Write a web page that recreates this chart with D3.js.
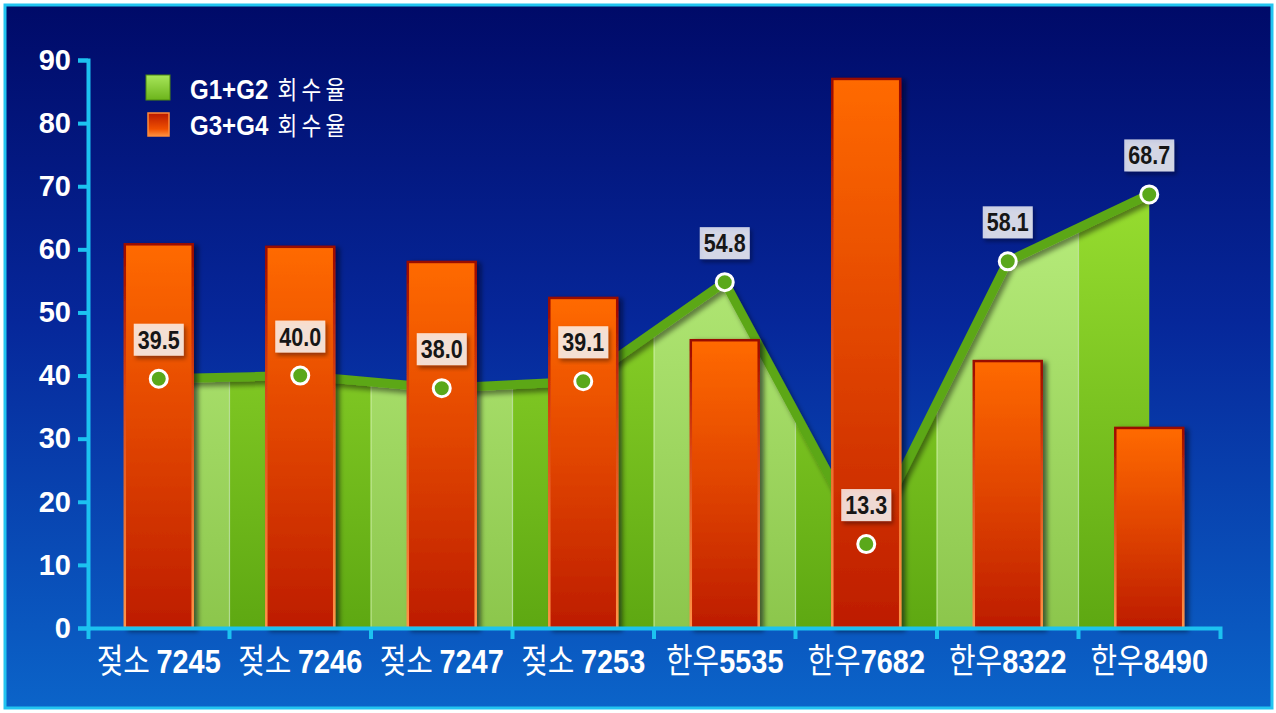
<!DOCTYPE html>
<html>
<head>
<meta charset="utf-8">
<script src="https://cdn.jsdelivr.net/npm/d3@7"></script>
<style>
  html, body { margin: 0; padding: 0; background: #ffffff; }
  svg { display: block; }
</style>
</head>
<body>
<svg id="chart" width="1276" height="713"></svg>
<script>
// ---- data ----
const categories = ["젖소 7245", "젖소 7246", "젖소 7247", "젖소 7253", "한우5535", "한우7682", "한우8322", "한우8490"];
const g12Rate = [39.5, 40.0, 38.0, 39.1, 54.8, 13.3, 58.1, 68.7];   // G1+G2 회수율 (line/area)
const g34Rate = [60.8, 60.4, 58.0, 52.3, 45.6, 87.0, 42.3, 31.7];   // G3+G4 회수율 (bars)
const yTicks = [0, 10, 20, 30, 40, 50, 60, 70, 80, 90];
const seriesNames = ["G1+G2 회수율", "G3+G4 회수율"];

// ---- setup ----
const svg = d3.select("#chart");
const defs = svg.append("defs");
const LATIN = "'Liberation Sans', Arial, sans-serif";
const HANGUL = "'Noto Sans CJK KR', 'Liberation Sans', sans-serif";
const AXIS_COLOR = "#1cc2f0";

function linGrad(id, stops, opts = {}) {
  const g = defs.append("linearGradient").attr("id", id)
    .attr("x1", 0).attr("y1", opts.y1 ?? 0).attr("x2", 0).attr("y2", opts.y2 ?? 1);
  if (opts.units) g.attr("gradientUnits", opts.units);
  stops.forEach(([o, c]) => g.append("stop").attr("offset", o).attr("stop-color", c));
}

const x = d3.scaleBand().domain(categories).range([88, 1220]);
const y = d3.scaleLinear().domain([0, 90]).range([628, 60]);
const cx = c => x(c) + x.bandwidth() / 2;

linGrad("bg", [[0, "#000a68"], [0.45, "#06279a"], [1, "#0b64c9"]]);
linGrad("barFill", [[0, "#ff6a00"], [0.5, "#e04400"], [1, "#bd1c00"]]);
linGrad("barStroke", [[0, "#9a0800"], [0.35, "#d84010"], [1, "#ff9448"]]);
linGrad("stripeLight", [[0, "#b9ee7e"], [1, "#8cc64c"]], { units: "userSpaceOnUse", y1: y(70), y2: y(0) });
linGrad("stripeDark", [[0, "#98de30"], [1, "#5ea812"]], { units: "userSpaceOnUse", y1: y(70), y2: y(0) });
linGrad("legGreen", [[0, "#a8e65a"], [1, "#6cb41c"]]);
linGrad("legRed", [[0, "#b81800"], [0.7, "#f05000"], [1, "#ff9040"]]);

function shadow(id, dx, dy, sd, op) {
  const f = defs.append("filter").attr("id", id)
    .attr("x", "-20%").attr("y", "-20%").attr("width", "140%").attr("height", "140%");
  f.append("feDropShadow").attr("dx", dx).attr("dy", dy).attr("stdDeviation", sd)
    .attr("flood-color", "#000010").attr("flood-opacity", op);
}
shadow("barShadow", 4, 2, 2.5, 0.55);
shadow("lineShadow", 3, 4, 2.5, 0.45);
shadow("boxShadow", 2, 3, 2, 0.5);

// Text with Latin runs in bold and Hangul runs in regular weight
function mixedText(sel, str, latinSize, hangulSize, hangulSpacing) {
  sel.text(null);
  const parts = str.match(/[\u3131-\uD79D\s]+|[^\u3131-\uD79D\s]+/g);
  parts.forEach(p => {
    const hangul = /[\u3131-\uD79D]/.test(p);
    const t = sel.append("tspan").text(p)
      .attr("font-family", hangul ? HANGUL : LATIN)
      .attr("font-weight", hangul ? 400 : 700)
      .attr("font-size", hangul ? hangulSize : latinSize);
    if (hangul && hangulSpacing) t.attr("letter-spacing", hangulSpacing);
  });
}

// ---- background frame ----
svg.append("rect").attr("x", 5).attr("y", 5).attr("width", 1267).attr("height", 703)
  .attr("fill", "url(#bg)").attr("stroke", "#22c4f0").attr("stroke-width", 3);

// ---- G1+G2 area (striped) ----
const area = d3.area()
  .x((d, i) => cx(categories[i]))
  .y0(y(0))
  .y1(d => y(d));
const line = d3.line()
  .x((d, i) => cx(categories[i]))
  .y(d => y(d));

defs.append("clipPath").attr("id", "areaClip")
  .append("path").attr("d", area(g12Rate));

const areaG = svg.append("g").attr("clip-path", "url(#areaClip)");
areaG.selectAll("rect.stripe").data(categories).join("rect")
  .attr("class", "stripe")
  .attr("x", c => x(c)).attr("width", x.bandwidth())
  .attr("y", y(90)).attr("height", y(0) - y(90))
  .attr("fill", (c, i) => i % 2 === 0 ? "url(#stripeLight)" : "url(#stripeDark)");
areaG.selectAll("line.sep").data(categories.slice(1)).join("line")
  .attr("class", "sep")
  .attr("x1", c => x(c)).attr("x2", c => x(c))
  .attr("y1", y(90)).attr("y2", y(0))
  .attr("stroke", "#d9f7b4").attr("stroke-opacity", 0.7).attr("stroke-width", 1.2);

svg.append("path").attr("d", line(g12Rate))
  .attr("fill", "none").attr("stroke", "#5ba716").attr("stroke-width", 9)
  .attr("stroke-linejoin", "round").attr("filter", "url(#lineShadow)");

// ---- G3+G4 bars ----
const barW = x.bandwidth() * 0.48;
svg.append("g").selectAll("rect").data(g34Rate).join("rect")
  .attr("x", (d, i) => cx(categories[i]) - barW / 2)
  .attr("width", barW)
  .attr("y", d => y(d))
  .attr("height", d => y(0) - y(d))
  .attr("fill", "url(#barFill)")
  .attr("stroke", "url(#barStroke)").attr("stroke-width", 2.5)
  .attr("filter", "url(#barShadow)");

// ---- axes ----
const yAxis = svg.append("g").attr("transform", "translate(88,0)")
  .call(d3.axisLeft(y).tickValues(yTicks).tickSize(10).tickSizeOuter(10).tickPadding(7));
yAxis.selectAll("path, line").attr("stroke", AXIS_COLOR).attr("stroke-width", 4);
yAxis.selectAll("text").attr("fill", "#ffffff").attr("font-family", LATIN)
  .attr("font-weight", 700).attr("font-size", 29);

const xAxis = svg.append("g").attr("transform", `translate(0,${y(0)})`)
  .call(d3.axisBottom(x).tickSizeInner(0).tickSizeOuter(11).tickPadding(0));
xAxis.selectAll("path").attr("stroke", AXIS_COLOR).attr("stroke-width", 4);
xAxis.selectAll(".tick line").remove();
xAxis.selectAll(".tick text")
  .attr("fill", "#ffffff").attr("y", 0).attr("dy", 0)
  .attr("transform", "translate(0,45) scale(0.85,1)")
  .each(function (c) { mixedText(d3.select(this), c, 34, 34, 0); });
xAxis.selectAll("line.boundary").data(categories.slice(1)).join("line")
  .attr("class", "boundary")
  .attr("x1", c => x(c)).attr("x2", c => x(c))
  .attr("y1", 0).attr("y2", 11)
  .attr("stroke", AXIS_COLOR).attr("stroke-width", 4);

// ---- points and value labels ----
svg.append("g").selectAll("circle").data(g12Rate).join("circle")
  .attr("cx", (d, i) => cx(categories[i]))
  .attr("cy", d => y(d))
  .attr("r", 8.5)
  .attr("fill", "#5aa81a").attr("stroke", "#ffffff").attr("stroke-width", 3);

const fmt = d3.format(".1f");
const lab = svg.append("g").selectAll("g").data(g12Rate).join("g")
  .attr("transform", (d, i) => `translate(${cx(categories[i])},${y(d) - 39})`);
lab.append("rect")
  .attr("x", -25).attr("y", -16).attr("width", 50).attr("height", 32)
  .attr("fill", "#ffffff").attr("fill-opacity", 0.78)
  .attr("filter", "url(#boxShadow)");
lab.append("text")
  .attr("transform", "scale(0.86,1)")
  .attr("text-anchor", "middle").attr("dy", "0.36em")
  .attr("font-family", LATIN).attr("font-weight", 700).attr("font-size", 25)
  .attr("fill", "#161616")
  .text(d => fmt(d));

// ---- legend ----
const legend = svg.append("g");
legend.append("rect").attr("x", 146).attr("y", 75).attr("width", 24).attr("height", 25)
  .attr("fill", "url(#legGreen)").attr("stroke", "#4c8a10").attr("stroke-width", 1);
legend.append("rect").attr("x", 148).attr("y", 113).attr("width", 21).attr("height", 23)
  .attr("fill", "url(#legRed)").attr("stroke", "#ff8a3a").attr("stroke-width", 1.5);
legend.selectAll("text").data(seriesNames).join("text")
  .attr("transform", (d, i) => `translate(190,${99 + i * 36}) scale(0.86,1)`)
  .attr("fill", "#ffffff")
  .each(function (d) { mixedText(d3.select(this), d, 28, 25, 5); });
</script>
</body>
</html>
